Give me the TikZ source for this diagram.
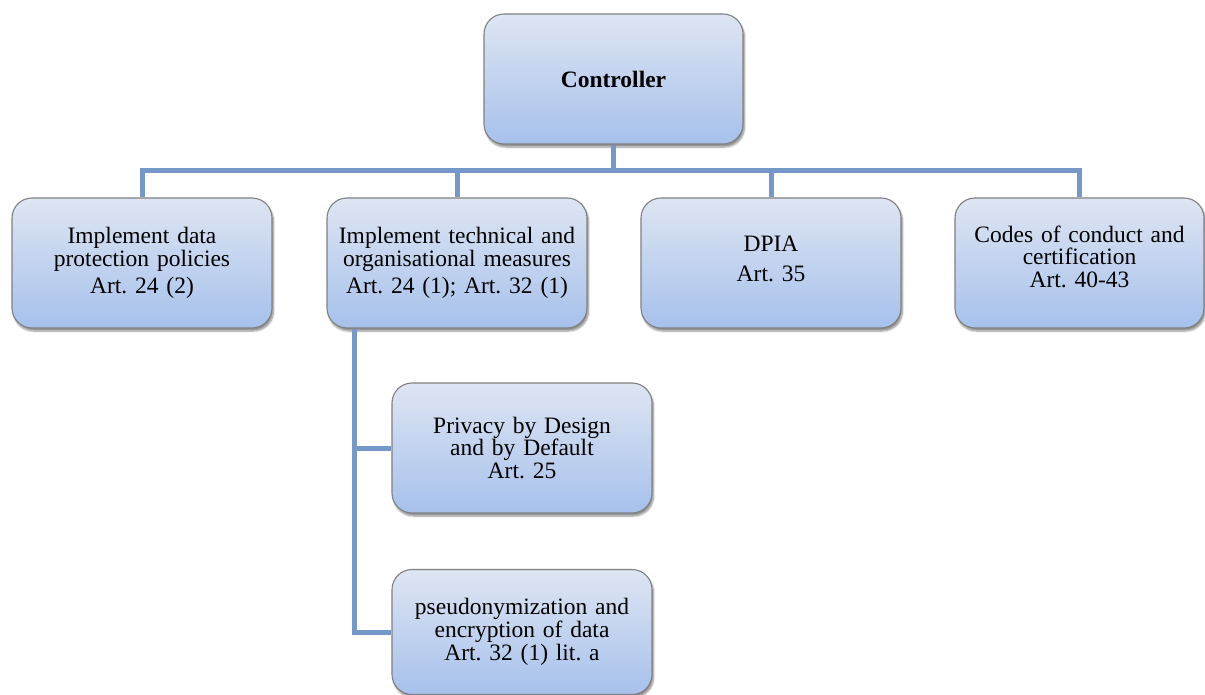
\documentclass[tikz,border=0pt]{standalone}
\usepackage{fontspec}
\setmainfont{Liberation Serif}
\frenchspacing
\usetikzlibrary{shadows.blur}
\definecolor{boxtop}{RGB}{222,229,242}
\definecolor{boxbot}{RGB}{166,193,236}
\definecolor{boxedge}{RGB}{128,128,128}
\definecolor{linkcol}{RGB}{118,152,201}
\tikzset{
  orgbox/.style={rectangle, rounded corners=20pt, draw=boxedge, line width=1.1pt,
    top color=boxtop, bottom color=boxbot, minimum width=260pt, minimum height=130pt,
    text width=254pt, align=center, inner sep=0pt,
    font=\frenchspacing\fontsize{23.5}{22.8}\selectfont,
    blur shadow={shadow xshift=1.5pt, shadow yshift=-3pt, shadow blur steps=6, shadow opacity=45}},
  link/.style={draw=linkcol, line width=5pt}
}
\begin{document}
\begin{tikzpicture}[x=1pt,y=-1pt]
\useasboundingbox (0,0) rectangle (1205,695);
\node[orgbox, minimum width=259pt, font=\bfseries\fontsize{23.5}{22.8}\selectfont] (ctrl) at (613.5,79) {Controller};
\node[orgbox] (b1) at (142,263) {Implement data\\protection policies\\[5pt]Art. 24 (2)};
\node[orgbox] (b2) at (457,263) {Implement technical and\\organisational measures\\[5pt]Art. 24 (1); Art. 32 (1)};
\node[orgbox] (b3) at (771,263) {DPIA\\[7pt]Art. 35\\[-14pt]\mbox{}};
\node[orgbox, minimum width=249pt, text width=245pt] (b4) at (1079.5,263) {Codes of conduct and\\certification\\Art. 40-43\\[-10pt]\mbox{}};
\node[orgbox] (b5) at (522,448) {Privacy by Design\\and by Default\\Art. 25};
\node[orgbox, minimum height=125pt] (b6) at (522,632) {pseudonymization and\\encryption of data\\Art. 32 (1) lit. a};
\coordinate (bar) at (613.5,171);
\coordinate (trunk) at ([xshift=28pt]b2.south west);
\draw[link] (ctrl.south) -- (bar);
\draw[link] (b1.north) |- (bar) -| (b4.north);
\draw[link] (b2.north) -- (b2.north |- bar);
\draw[link] (b3.north) -- (b3.north |- bar);
\draw[link] (trunk) |- (b5.west);
\draw[link] (trunk) |- (b6.west);
\end{tikzpicture}
\end{document}
